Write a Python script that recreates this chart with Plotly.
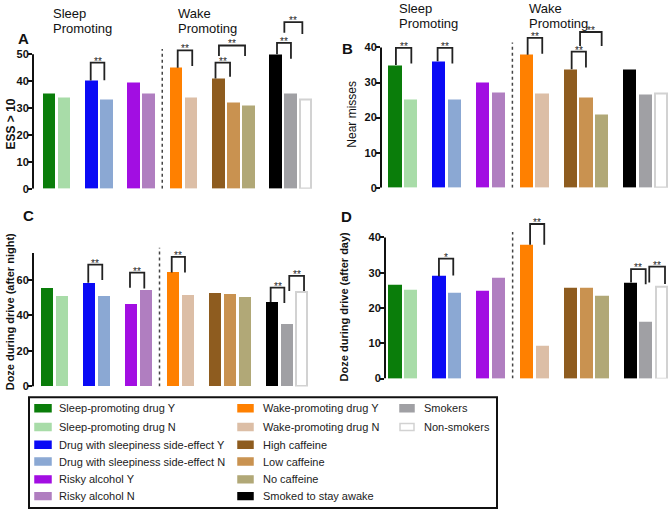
import plotly.graph_objects as go

# ---------------- data ----------------
categories = [
    "Sleep-promoting drug Y", "Sleep-promoting drug N",
    "Drug with sleepiness side-effect Y", "Drug with sleepiness side-effect N",
    "Risky alcohol Y", "Risky alcohol N",
    "Wake-promoting drug Y", "Wake-promoting drug N",
    "High caffeine", "Low caffeine", "No caffeine",
    "Smoked to stay awake", "Smokers", "Non-smokers",
]
groups = [0, 0, 1, 1, 2, 2, 3, 3, 4, 4, 4, 5, 5, 5]
colors = [
    "#0a7d0a", "#a8dca8",
    "#0a0af5", "#8ba8d3",
    "#a20ee2", "#b07ec0",
    "#ff8000", "#dcbea6",
    "#8e5c1f", "#c99250", "#b1a877",
    "#000000", "#a0a0a4", "#ffffff",
]

ess_gt10 = [35.3, 34.0, 40.3, 33.1, 39.7, 35.4, 45.0, 34.0, 41.0, 32.0, 31.0, 50.0, 35.3, 33.4]
near_misses = [35.0, 25.2, 36.1, 25.2, 30.1, 27.1, 37.9, 26.8, 33.8, 25.9, 20.9, 33.7, 26.6, 26.8]
doze_after_night = [55.0, 51.0, 58.3, 50.8, 46.2, 54.4, 64.0, 51.3, 52.5, 51.8, 50.3, 47.5, 35.1, 53.0]
doze_after_day = [26.6, 25.1, 29.0, 24.4, 25.0, 28.7, 37.9, 9.2, 25.8, 25.6, 23.5, 27.2, 16.0, 25.9]

# significance brackets: (x left, x right, top, left end, right end, label)
brackets_A = [
    (2.78, 3.69, 46.9, 40.3, 40.4, "**"),
    (8.58, 9.55, 51.5, 45.0, 45.7, "**"),
    (11.1, 12.07, 46.9, 41.0, 41.7, "**"),
    (11.33, 13.07, 53.3, 49.4, 49.4, "**"),
    (15.2, 16.13, 54.3, 50.0, 48.4, "**"),
    (15.69, 16.89, 62.0, 58.0, 57.6, "**"),
]
brackets_B = [
    (0.06, 1.05, 39.9, 35.0, 35.4, "**"),
    (2.74, 3.69, 39.9, 36.1, 35.4, "**"),
    (8.53, 9.47, 42.7, 37.9, 38.2, "**"),
    (11.36, 12.28, 38.8, 33.8, 34.3, "**"),
    (11.9, 13.29, 44.4, 40.4, 40.4, "**"),
]
brackets_C = [
    (2.77, 3.71, 68.5, 58.3, 59.8, "**"),
    (5.57, 6.53, 64.0, 55.5, 55.0, "**"),
    (8.37, 9.26, 72.8, 64.0, 64.0, "**"),
    (15.01, 15.93, 55.6, 47.5, 46.9, "**"),
    (16.26, 17.25, 62.2, 53.7, 53.7, "**"),
]
brackets_D = [
    (2.82, 3.74, 34.0, 29.0, 29.2, "*"),
    (8.67, 9.58, 43.8, 37.9, 37.9, "**"),
    (15.15, 16.09, 31.0, 27.2, 26.7, "**"),
    (16.32, 17.33, 31.7, 27.2, 26.8, "**"),
]

# ---------------- layout helpers ----------------
W, H = 669, 515
FONT = "Liberation Sans, Arial, sans-serif"
pos = [i + 0.82 * g for i, g in enumerate(groups)]
divider = (pos[5] + pos[6]) / 2


def px(x):
    return x / W


def py(y):
    return 1 - y / H


panels = [
    dict(vals=ess_gt10, br=brackets_A, axis=33, c0=49, step=15.0, right=319, y0=191, ppu=2.72,
         ymax=63, top=50, ticks=[0, 10, 20, 30, 40, 50], dtop=52),
    dict(vals=near_misses, br=brackets_B, axis=381, c0=395, step=15.55, right=668, y0=190, ppu=3.55,
         ymax=46, top=40, ticks=[0, 10, 20, 30, 40], dtop=41.4),
    dict(vals=doze_after_night, br=brackets_C, axis=33, c0=47, step=14.9, right=315, y0=391, ppu=1.8,
         ymax=80, top=75, ticks=[0, 20, 40, 60], dtop=78),
    dict(vals=doze_after_day, br=brackets_D, axis=385, c0=395, step=15.58, right=668, y0=383, ppu=3.57,
         ymax=45, top=40, ticks=[0, 10, 20, 30, 40], dtop=41.5),
]

fig = go.Figure()
shapes = []
annotations = []
layout = {}

line_cols = ["rgba(0,0,0,0)"] * 13 + ["#d2d2d2"]
line_ws = [0] * 13 + [2]
widths = [0.85] * 13 + [0.72]

for k, p in enumerate(panels, start=1):
    sx = "" if k == 1 else str(k)
    xr = [(p["axis"] - p["c0"]) / p["step"], (p["right"] - p["c0"]) / p["step"]]
    layout["xaxis" + sx] = dict(
        domain=[px(p["axis"]), px(p["right"])], range=xr, visible=False,
        anchor="y" + sx, fixedrange=True,
    )
    layout["yaxis" + sx] = dict(
        domain=[py(p["y0"]), py(p["y0"] - p["ymax"] * p["ppu"])], range=[0, p["ymax"]],
        anchor="x" + sx, tickvals=p["ticks"], ticks="outside", ticklen=4, tickwidth=1.8,
        tickcolor="#111", showline=False, showgrid=False, zeroline=False,
        tickfont=dict(family=FONT, size=11, color="#111", weight="bold"), ticklabelstandoff=-3,
    )
    fig.add_trace(go.Bar(
        x=pos, y=p["vals"], width=widths, xaxis="x" + sx, yaxis="y" + sx,
        marker=dict(color=colors, line=dict(color=line_cols, width=line_ws)),
        showlegend=False, hovertext=categories,
    ))
    # y axis line
    shapes.append(dict(type="line", xref="x" + sx + " domain", yref="y" + sx,
                       x0=0, x1=0, y0=0, y1=p["top"], line=dict(color="#111", width=2)))
    # dotted divider
    shapes.append(dict(type="line", xref="x" + sx, yref="y" + sx,
                       x0=divider, x1=divider, y0=0, y1=p["dtop"],
                       line=dict(color="#444", width=1.5, dash="dot")))
    for (xl, xrr, top, le, re, lab) in p["br"]:
        shapes.append(dict(type="path", xref="x" + sx, yref="y" + sx,
                           path=f"M {xl},{le} L {xl},{top} L {xrr},{top} L {xrr},{re}",
                           line=dict(color="#222", width=1.8)))
        annotations.append(dict(x=(xl + xrr) / 2, y=top, xref="x" + sx, yref="y" + sx,
                                text=lab, showarrow=False, yanchor="bottom", yshift=-5,
                                borderpad=0,
                                font=dict(family=FONT, size=10, color="#222")))

# panel letters
for lab, x, y in [("A", 23, 39), ("B", 347, 49), ("C", 28, 218), ("D", 346, 219)]:
    annotations.append(dict(x=px(x), y=py(y), xref="paper", yref="paper", text=lab,
                            showarrow=False, xanchor="center", yanchor="middle", borderpad=0,
                            font=dict(family=FONT, size=15, color="#111", weight="bold")))

# y axis titles
for txt, x, y, bold, size in [
    ("ESS > 10", 11, 126, True, 12),
    ("Near misses", 352, 116, False, 12),
    ("Doze during drive (after night)", 10, 316, True, 11),
    ("Doze during drive (after day)", 344, 311, True, 11),
]:
    annotations.append(dict(x=px(x), y=py(y), xref="paper", yref="paper", text=txt,
                            textangle=-90, showarrow=False, xanchor="center", yanchor="middle",
                            font=dict(family=FONT, size=size, color="#111",
                                      weight="bold" if bold else "normal")))

# group headings (one annotation per line)
for txt, x, y in [("Sleep", 52, 13.5), ("Promoting", 52, 28.5),
                  ("Wake", 177, 13.5), ("Promoting", 177, 28.5),
                  ("Sleep", 398, 8.5), ("Promoting", 398, 23.5),
                  ("Wake", 528, 8.5), ("Promoting", 528, 23.5)]:
    annotations.append(dict(x=px(x), y=py(y), xref="paper", yref="paper", text=txt,
                            showarrow=False, xanchor="left", yanchor="middle", align="left",
                            borderpad=0,
                            font=dict(family=FONT, size=13, color="#111")))

# custom legend (3 columns)
shapes.append(dict(type="rect", xref="paper", yref="paper", x0=px(29), x1=px(497),
                   y0=py(514), y1=py(402), line=dict(color="#111", width=2)))
col_sw = [35, 238, 400]
col_sw_w = [16, 15, 14]
col_tx = [57, 261, 422]
row_y = [413, 432, 450, 467, 485, 502]
legend_cols = [list(range(0, 6)), list(range(6, 12)), list(range(12, 14))]
for c, idxs in enumerate(legend_cols):
    for r, i in enumerate(idxs):
        yc = row_y[r]
        border = "#d2d2d2" if colors[i] == "#ffffff" else colors[i]
        shapes.append(dict(type="rect", xref="paper", yref="paper",
                           x0=px(col_sw[c]), x1=px(col_sw[c] + col_sw_w[c]),
                           y0=py(yc + 3.5), y1=py(yc - 3.5),
                           fillcolor=colors[i], line=dict(color=border, width=1.5)))
        annotations.append(dict(x=px(col_tx[c]), y=py(yc), xref="paper", yref="paper",
                                text=categories[i], showarrow=False, xanchor="left",
                                yanchor="middle",
                                font=dict(family=FONT, size=11, color="#222")))

fig.update_layout(
    width=W, height=H, margin=dict(l=0, r=0, t=0, b=0),
    paper_bgcolor="white", plot_bgcolor="white",
    shapes=shapes, annotations=annotations, bargap=0,
    **layout,
)

fig.write_html(
    "out.html",
    config={"displayModeBar": False},
    post_script="document.body.style.margin='0';document.body.style.overflow='hidden';",
)
